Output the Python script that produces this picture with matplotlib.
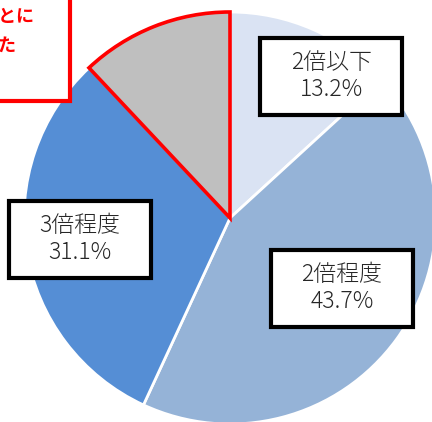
import matplotlib.pyplot as plt
from matplotlib.patches import Rectangle

plt.rcParams['font.family'] = ['Noto Sans CJK JP', 'DejaVu Sans']

# data
labels = ['2倍以下', '2倍程度', '3倍程度', 'その他']
shares = [13.2, 43.7, 31.1, 12.0]
colors = ['#DAE3F3', '#95B3D7', '#558ED5', '#BFBFBF']

W, H = 432, 422
fig = plt.figure(figsize=(W / 100, H / 100), dpi=100)
ax = fig.add_axes([0, 0, 1, 1])

# pie in pixel-like coordinates (y up)
cx, cy, r = 230, H - 218, 206
wedges, _ = ax.pie(shares, colors=colors, startangle=90, counterclock=False,
                   center=(cx, cy), radius=r,
                   wedgeprops=dict(edgecolor='white', linewidth=2))
# highlight the grey slice
wedges[3].set_edgecolor('#FF0000')
wedges[3].set_linewidth(2.6)
wedges[3].set_zorder(3)

ax.set_xlim(0, W)
ax.set_ylim(0, H)
ax.set_aspect('equal')
ax.axis('off')

# label boxes (centre x, centre y in image pixels)
box_pos = [(331, 76), (342, 288), (80, 239)]
box_w, box_h = 142, 77
for i, (bx, by) in enumerate(box_pos):
    y = H - by
    ax.add_patch(Rectangle((bx - box_w / 2, y - box_h / 2), box_w, box_h,
                           facecolor='white', edgecolor='black', linewidth=3, zorder=5))
    ax.text(bx, y, f'{labels[i]}\n{shares[i]:.1f}%', ha='center', va='center',
            fontsize=16.5, color='#262626', linespacing=1.15, fontweight='light',
            zorder=6)

# red callout box, cut off at the top-left corner
ax.add_patch(Rectangle((-20, H - 101), 90, 130, facecolor='white',
                       edgecolor='#FF0000', linewidth=3, zorder=5, clip_on=False))
ax.text(35, H - 17, '倍率ごとに', ha='right', va='center', fontsize=13,
        color='#FF0000', fontweight='bold', zorder=6)
ax.text(16, H - 45, '比較した', ha='right', va='center', fontsize=13,
        color='#FF0000', fontweight='bold', zorder=6)

fig.savefig('out.png', dpi=100)
